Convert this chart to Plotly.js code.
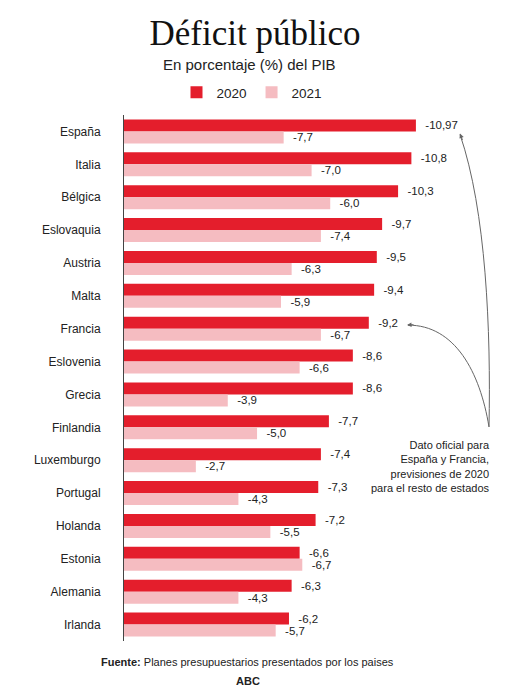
<!DOCTYPE html>
<html><head><meta charset="utf-8">
<script src="https://cdn.plot.ly/plotly-3.0.1.min.js"></script>
<style>html,body{margin:0;padding:0;background:#fff}#chart{width:510px;height:700px}</style>
</head><body><div id="chart"></div>
<script>
const countries = ["España","Italia","Bélgica","Eslovaquia","Austria","Malta","Francia","Eslovenia","Grecia","Finlandia","Luxemburgo","Portugal","Holanda","Estonia","Alemania","Irlanda"];
// bar lengths as drawn in the picture
const bars2020 = [-10.97,-10.8,-10.3,-9.7,-9.5,-9.4,-9.2,-8.6,-8.6,-7.7,-7.4,-7.3,-7.2,-6.6,-6.3,-6.2];
const bars2021 = [-6.0,-7.05,-7.75,-7.4,-6.3,-5.9,-7.4,-6.6,-3.9,-5.0,-2.7,-4.3,-5.5,-6.7,-4.3,-5.7];
// value labels as printed in the picture
const labels2020 = ["-10,97","-10,8","-10,3","-9,7","-9,5","-9,4","-9,2","-8,6","-8,6","-7,7","-7,4","-7,3","-7,2","-6,6","-6,3","-6,2"];
const labels2021 = ["-7,7","-7,0","-6,0","-7,4","-6,3","-5,9","-6,7","-6,6","-3,9","-5,0","-2,7","-4,3","-5,5","-6,7","-4,3","-5,7"];
const seriesNames = ["2020","2021"];

const W=510,H=700, L=124, R=10, T=114.5, B=58.5;
const pw=W-L-R, ph=H-T-B;
const px = x => (x-L)/pw;
const py = y => (H-B-y)/ph;

const pad = s => '\u00a0\u00a0' + s;
const font = 'Liberation Sans, Arial, sans-serif';

const traces = [
  {type:'bar', orientation:'h', name:seriesNames[0], y:countries, x:bars2020,
   marker:{color:'#e41e2c'}, text:labels2020.map(pad), textposition:'outside',
   textfont:{family:font,size:11.5,color:'#222'}, constraintext:'none', cliponaxis:false, hoverinfo:'none'},
  {type:'bar', orientation:'h', name:seriesNames[1], y:countries, x:bars2021,
   marker:{color:'#f5bcc1'}, text:labels2021.map(pad), textposition:'outside',
   textfont:{family:font,size:11.5,color:'#222'}, constraintext:'none', cliponaxis:false, hoverinfo:'none'}
];

function pathStr(pts){
  return 'M'+px(pts[0][0])+','+py(pts[0][1])+' C'+pts.slice(1).map(p=>px(p[0])+','+py(p[1])).join(' ');
}
const curveEsp = [[489,427],[491,330],[486,210],[460,134]];
const curveFra = [[489,427],[480,372],[455,325],[408,325]];

const layout = {
  width:W, height:H,
  margin:{l:L,r:R,t:T,b:B},
  paper_bgcolor:'#fff', plot_bgcolor:'#fff',
  font:{family:font, color:'#222'},
  barmode:'group', bargap:0.27, bargroupgap:0,
  title:{text:'Déficit público', font:{family:'Liberation Serif, Times New Roman, serif', size:35, color:'#111'},
         x:0.5, xanchor:'center', xref:'container', y:1-33/H, yanchor:'middle', yref:'container'},
  xaxis:{range:[0,-14.13], showgrid:false, zeroline:false, showticklabels:false, ticks:'', showline:false, fixedrange:true},
  yaxis:{autorange:'reversed', showline:true, linecolor:'#444', linewidth:1, ticks:'', ticklabelstandoff:20,
         tickfont:{family:font,size:12,color:'#222'}, showgrid:false, zeroline:false, fixedrange:true},
  showlegend:true,
  legend:{orientation:'h', x:px(252), xanchor:'center', y:py(92), yanchor:'middle',
          font:{family:font,size:13.5,color:'#222'}, itemwidth:30, traceorder:'normal'},
  shapes:[
    {type:'path', xref:'paper', yref:'paper', path:pathStr(curveEsp), line:{color:'#666',width:1}},
    {type:'path', xref:'paper', yref:'paper', path:pathStr(curveFra), line:{color:'#666',width:1}}
  ],
  annotations:[
    {xref:'paper',yref:'paper',x:px(249),y:py(64),text:'En porcentaje (%) del PIB',showarrow:false,
     font:{family:font,size:15,color:'#222'},xanchor:'center',yanchor:'middle'},
    {xref:'paper',yref:'paper',x:px(492),y:py(467),text:'Dato oficial para<br>España y Francia,<br>previsiones de 2020<br>para el resto de estados',
     showarrow:false,align:'right',xanchor:'right',yanchor:'middle',font:{family:font,size:11,color:'#222'}},
    {xref:'paper',yref:'paper',x:px(247),y:py(663),text:'<b>Fuente:</b> Planes presupuestarios presentados por los paises',
     showarrow:false,xanchor:'center',yanchor:'middle',font:{family:font,size:11,color:'#222'}},
    {xref:'paper',yref:'paper',x:px(248),y:py(682),text:'<b>ABC</b>',
     showarrow:false,xanchor:'center',yanchor:'middle',font:{family:font,size:11,color:'#222'}},
    {xref:'paper',yref:'paper',x:px(460),y:py(133),text:'',showarrow:true,arrowhead:2,arrowsize:0.9,arrowwidth:1,
     arrowcolor:'#666',ax:3,ay:8},
    {xref:'paper',yref:'paper',x:px(407),y:py(325),text:'',showarrow:true,arrowhead:2,arrowsize:0.9,arrowwidth:1,
     arrowcolor:'#666',ax:8,ay:-0.5}
  ]
};
Plotly.newPlot('chart', traces, layout, {displayModeBar:false, staticPlot:true});
</script></body></html>
